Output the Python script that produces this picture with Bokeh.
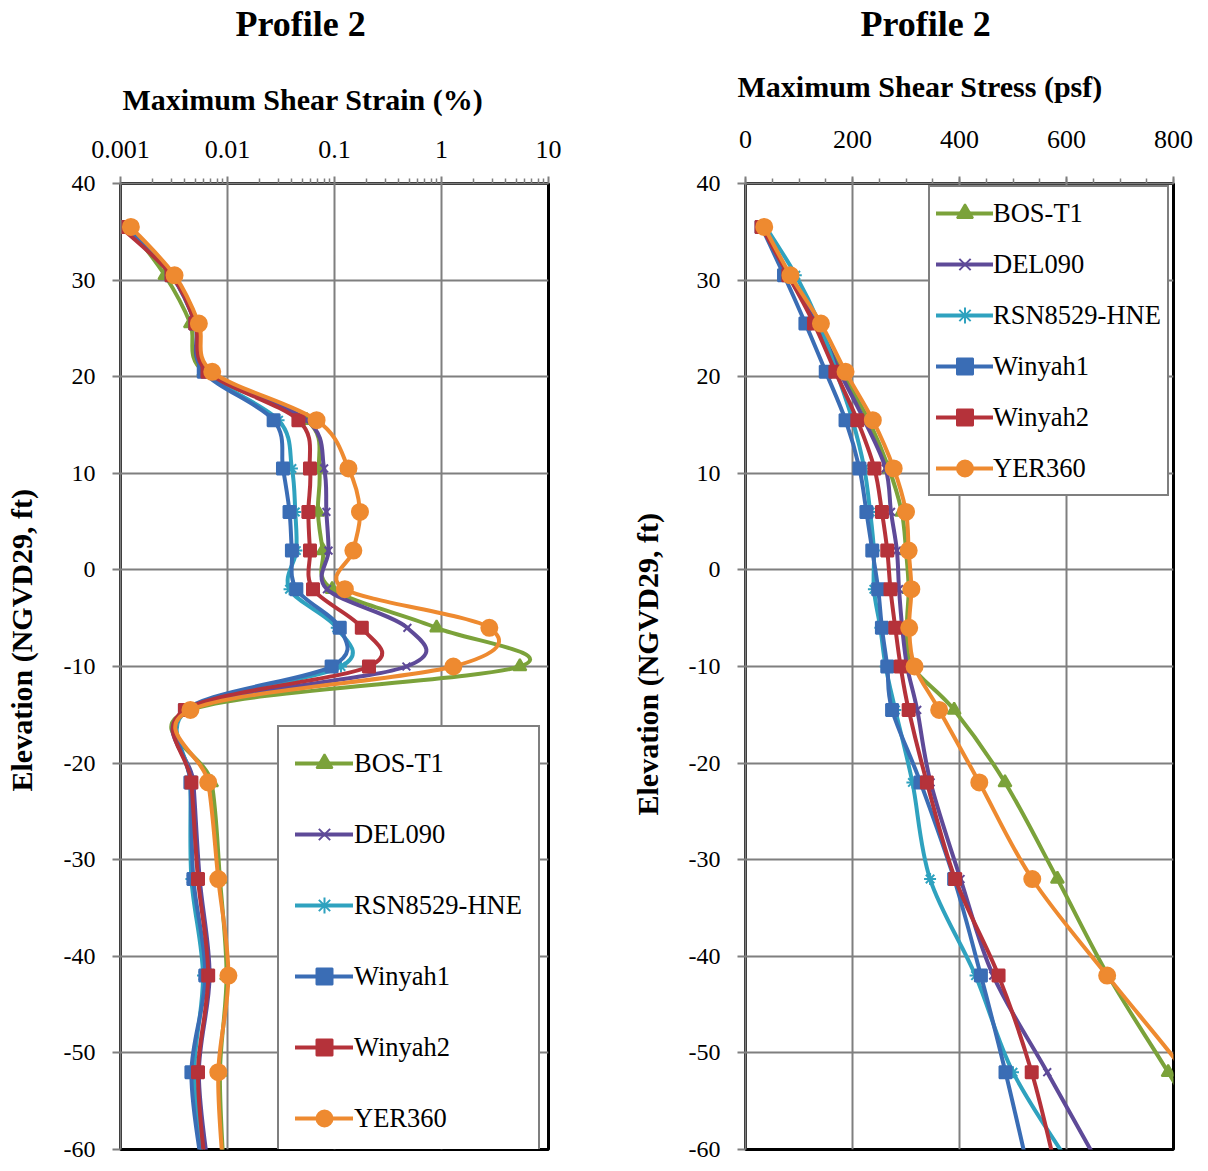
import numpy as np
from bokeh.plotting import figure
from bokeh.models import (Range1d, FixedTicker, CustomJSTickFormatter, Legend,
                          LegendItem, ColumnDataSource, Title)
from bokeh.layouts import row
from bokeh.embed import file_html
from bokeh.resources import INLINE

# ---------------- data ----------------
elevation = [35.5, 30.5, 25.5, 20.5, 15.5, 10.5, 6, 2, -2, -6, -10, -14.5, -22, -32, -42, -52, -62]
series_names = ["BOS-T1", "DEL090", "RSN8529-HNE", "Winyah1", "Winyah2", "YER360"]

# Maximum shear strain (%)
strain_bos = [0.0012, 0.0026, 0.0045, 0.0060, 0.055, 0.072, 0.070, 0.078, 0.095, 0.90, 5.4, 0.0045, 0.0071, 0.0085, 0.0098, 0.0085, 0.0092]
strain_del = [0.0012, 0.0030, 0.0050, 0.0063, 0.055, 0.080, 0.084, 0.088, 0.085, 0.48, 0.47, 0.0042, 0.0048, 0.0055, 0.0068, 0.0054, 0.0066]
strain_rsn = [0.0012, 0.0031, 0.0052, 0.0062, 0.030, 0.040, 0.043, 0.044, 0.038, 0.105, 0.115, 0.0042, 0.0045, 0.0046, 0.0059, 0.0049, 0.0060]
strain_w1 = [0.0011, 0.0030, 0.0050, 0.0060, 0.027, 0.033, 0.038, 0.040, 0.044, 0.112, 0.094, 0.0040, 0.0045, 0.0048, 0.0062, 0.0046, 0.0058]
strain_w2 = [0.0010, 0.0030, 0.0050, 0.0065, 0.046, 0.059, 0.057, 0.059, 0.063, 0.18, 0.21, 0.0040, 0.0046, 0.0053, 0.0066, 0.0053, 0.0062]
strain_yer = [0.00125, 0.0032, 0.0054, 0.0072, 0.068, 0.135, 0.173, 0.15, 0.125, 2.8, 1.29, 0.0045, 0.0066, 0.0082, 0.0102, 0.0082, 0.0091]

# Maximum shear stress (psf)
stress_bos = [33, 80, 132, 180, 230, 268, 292, 300, 305, 302, 312, 390, 485, 583, 678, 790, 900]
stress_del = [33, 82, 135, 176, 222, 262, 272, 283, 287, 293, 302, 321, 346, 402, 463, 564, 665]
stress_rsn = [38, 94, 138, 170, 200, 222, 233, 240, 240, 252, 262, 280, 312, 345, 430, 500, 612]
stress_w1 = [30, 72, 112, 150, 187, 213, 226, 237, 248, 255, 265, 274, 327, 390, 440, 486, 528]
stress_w2 = [30, 80, 128, 168, 209, 241, 255, 265, 271, 280, 290, 305, 339, 392, 473, 535, 580]
stress_yer = [35, 84, 141, 187, 238, 277, 300, 305, 310, 306, 316, 362, 437, 536, 676, 822, 950]

strain_ticks = [0.001, 0.01, 0.1, 1, 10]
stress_ticks = [0, 200, 400, 600, 800]
elev_ticks = [-60, -50, -40, -30, -20, -10, 0, 10, 20, 30, 40]

strain_series = [strain_bos, strain_del, strain_rsn, strain_w1, strain_w2, strain_yer]
stress_series = [stress_bos, stress_del, stress_rsn, stress_w1, stress_w2, stress_yer]

# ---------------- style ----------------
colors = ["#7BA23A", "#5E4A98", "#2FA2BF", "#3A6DB5", "#B5323A", "#EE8A30"]
markers = ["triangle", "x", "asterisk", "square", "square", "circle"]
msizes = [13, 11, 12, 12, 12, 16]
FONT = "Liberation Serif"
GRID = "#7f7f7f"


def smooth(xv, yv, logx):
    """Bezier segments (Excel-like smoothed line) through the data points."""
    xv = np.asarray(xv, float)
    yv = np.asarray(yv, float)
    u = np.log10(xv) if logx else xv
    up = np.r_[u[0], u, u[-1]]
    vp = np.r_[yv[0], yv, yv[-1]]
    p0u, p1u, p2u, p3u = up[:-3], up[1:-2], up[2:-1], up[3:]
    p0v, p1v, p2v, p3v = vp[:-3], vp[1:-2], vp[2:-1], vp[3:]
    c1u = p1u + (p2u - p0u) / 6.0
    c2u = p2u - (p3u - p1u) / 6.0
    c1v = p1v + (p2v - p0v) / 6.0
    c2v = p2v - (p3v - p1v) / 6.0
    f = (lambda a: 10.0 ** a) if logx else (lambda a: a)
    return dict(x0=f(p1u), y0=p1v, x1=f(p2u), y1=p2v,
                cx0=f(c1u), cy0=c1v, cx1=f(c2u), cy1=c2v)


def spacer(h):
    return Title(text=" ", text_font_size="1px", standoff=max(h - 3, 0))


def make_panel(xs_list, logx, x_range, xlabel, borders, xticks, xminor,
               title_offset, title_standoff, xlabel_offset, ylabel_offset, xtick_standoff,
               h1, h2, hy, legend_loc, legend_cfg):
    bl, br, bt, bb = borders
    kw = dict(x_axis_type="log") if logx else {}
    p = figure(width=604, height=1171, x_range=x_range, y_range=Range1d(-60, 40),
               x_axis_location="above", output_backend="svg", toolbar_location=None,
               min_border_left=bl, min_border_right=br, min_border_top=bt,
               min_border_bottom=bb, **kw)
    p.background_fill_color = "white"
    p.border_fill_color = "white"
    p.outline_line_color = "black"
    p.outline_line_width = 3

    # axes
    xa = p.xaxis[0]
    xa.ticker = FixedTicker(ticks=xticks, minor_ticks=xminor)
    xa.formatter = CustomJSTickFormatter(code="return tick.toString();")
    ya = p.yaxis[0]
    ya.ticker = FixedTicker(ticks=elev_ticks)
    ya.formatter = CustomJSTickFormatter(code="return tick.toString();")
    for ax in (xa, ya):
        ax.axis_line_color = GRID
        ax.axis_line_width = 2
        ax.major_tick_line_color = GRID
        ax.major_tick_line_width = 2
        ax.major_tick_in = 0
        ax.major_tick_out = 7
        ax.minor_tick_in = 0
        ax.minor_tick_out = 5
        ax.minor_tick_line_color = GRID
        ax.minor_tick_line_width = 1.5
        ax.major_label_text_font = FONT
        ax.major_label_text_color = "black"
    xa.major_label_text_font_size = "26px"
    ya.major_label_text_font_size = "24px"
    ya.minor_tick_line_color = None
    ya.major_tick_out = 8
    xa.major_label_standoff = xtick_standoff
    ya.major_label_standoff = 17

    p.xgrid.ticker = FixedTicker(ticks=xticks)
    p.ygrid.ticker = FixedTicker(ticks=elev_ticks)
    for g in (p.xgrid, p.ygrid):
        g.grid_line_color = GRID
        g.grid_line_width = 2

    # axis titles (Titles so that they can be positioned like the reference)
    p.add_layout(spacer(h1), "above")
    t_x = Title(text=xlabel, align="left", offset=xlabel_offset,
                text_font=FONT, text_font_size="30px", text_font_style="bold",
                text_color="black", standoff=0)
    p.add_layout(t_x, "above")
    p.add_layout(spacer(h2), "above")

    p.add_layout(spacer(hy), "left")
    t_y = Title(text="Elevation (NGVD29, ft)", align="left", offset=ylabel_offset,
                text_font=FONT, text_font_size="30px", text_font_style="bold",
                text_color="black", standoff=0)
    p.add_layout(t_y, "left")

    p.title.text = "Profile 2"
    p.title.align = "left"
    p.title.offset = title_offset
    p.title.text_font = FONT
    p.title.text_font_size = "36px"
    p.title.text_font_style = "bold"
    p.title.text_color = "black"
    p.title.standoff = title_standoff

    items = []
    for name, xs, col, mk, ms in zip(series_names, xs_list, colors, markers, msizes):
        src = ColumnDataSource(smooth(xs, elevation, logx))
        r_line = p.bezier(x0="x0", y0="y0", x1="x1", y1="y1", cx0="cx0", cy0="cy0",
                          cx1="cx1", cy1="cy1", source=src, line_color=col,
                          line_width=4, line_cap="round", line_join="round")
        r_mk = p.scatter(xs, elevation, marker=mk, size=ms, fill_color=col,
                         line_color=col, line_width=2)
        items.append(LegendItem(label=name, renderers=[r_line, r_mk]))

    leg = Legend(items=items, location=legend_loc, border_line_color="black",
                 border_line_width=2, background_fill_color="white",
                 background_fill_alpha=1.0, label_text_font=FONT,
                 label_text_font_size="26.5px", label_text_color="black",
                 margin=0, **legend_cfg)
    p.add_layout(leg)
    return p


minor_log = [m * 10.0 ** k for k in range(-3, 1) for m in range(2, 10)]
p1 = make_panel(strain_series, True, Range1d(0.001, 10),
                "Maximum Shear Strain (%)", (120, 56, 183, 13), strain_ticks, minor_log,
                115, 0, 2, 358, 19, 22, 37, 23, (157, -7),
                dict(padding=16, spacing=31, label_height=40, glyph_height=40,
                     glyph_width=58, label_standoff=1))

minor_lin = list(range(0, 801, 50))
p2 = make_panel(stress_series, False, Range1d(0, 800),
                "Maximum Shear Stress (psf)", (141, 35, 176, 22), stress_ticks, minor_lin,
                115, 0, -8, 334, 29, 25, 24, 22, (183, 653),
                dict(padding=6, spacing=11, label_height=40, glyph_height=40,
                     glyph_width=57, label_standoff=0))

layout = row(p1, p2)
open("out.html", "w").write(file_html(layout, INLINE))
